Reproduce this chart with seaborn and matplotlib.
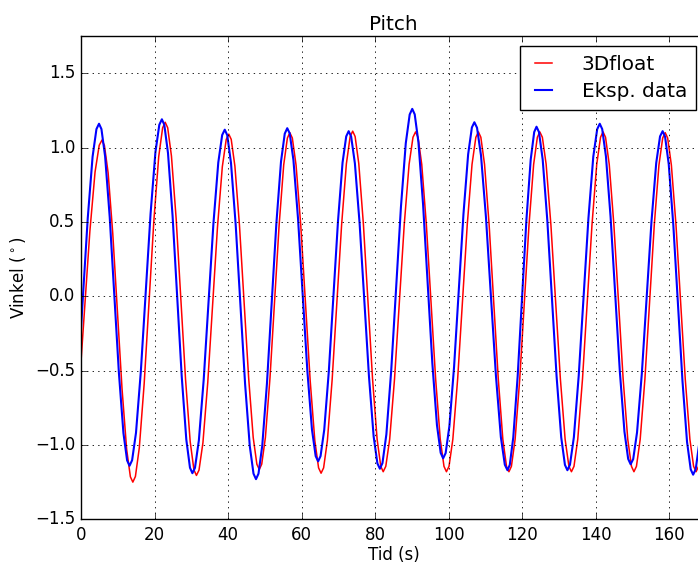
import matplotlib
matplotlib.use("Agg")
import matplotlib.pyplot as plt
import seaborn as sns
import numpy as np

# ---- data ----
red_t = [0.00, 1.00, 2.41, 3.82, 4.95,
         5.70, 6.37, 7.38, 8.64, 9.90, 11.16, 12.42, 13.43,
         14.10, 14.80, 15.86, 17.18, 18.50, 19.82, 21.14, 22.20,
         22.90, 23.58, 24.60, 25.88, 27.15, 28.43, 29.70, 30.72,
         31.40, 32.10, 33.16, 34.48, 35.80, 37.12, 38.44, 39.50,
         40.20, 40.86, 41.86, 43.11, 44.35, 45.60, 46.84, 47.84,
         48.50, 49.16, 50.16, 51.41, 52.65, 53.90, 55.14, 56.14,
         56.80, 57.48, 58.50, 59.78, 61.05, 62.33, 63.60, 64.62,
         65.30, 65.99, 67.02, 68.31, 69.60, 70.89, 72.18, 73.21,
         73.90, 74.56, 75.56, 76.81, 78.05, 79.30, 80.54, 81.54,
         82.20, 82.90, 83.96, 85.28, 86.60, 87.92, 89.24, 90.30,
         91.00, 91.67, 92.68, 93.94, 95.20, 96.46, 97.72, 98.73,
         99.40, 100.10, 101.14, 102.45, 103.75, 105.06, 106.36, 107.40,
         108.10, 108.76, 109.76, 111.01, 112.25, 113.50, 114.74, 115.74,
         116.40, 117.07, 118.08, 119.34, 120.60, 121.86, 123.12, 124.13,
         124.80, 125.49, 126.52, 127.81, 129.10, 130.39, 131.68, 132.71,
         133.40, 134.09, 135.12, 136.41, 137.70, 138.99, 140.28, 141.31,
         142.00, 142.67, 143.68, 144.94, 146.20, 147.46, 148.72, 149.73,
         150.40, 151.08, 152.10, 153.38, 154.65, 155.93, 157.20, 158.22,
         158.90, 159.57, 160.58, 161.84, 163.10, 164.36, 165.62, 166.63,
         167.30, 167.98, 169.00, 170.00]
red_v = [-0.440, -0.075, 0.436, 0.835, 1.015,
         1.050, 1.014, 0.830, 0.422, -0.100, -0.622, -1.030, -1.214,
         -1.250, -1.212, -1.019, -0.589, -0.040, 0.509, 0.939, 1.132,
         1.170, 1.133, 0.943, 0.522, -0.018, -0.557, -0.978, -1.168,
         -1.205, -1.169, -0.986, -0.579, -0.058, 0.464, 0.871, 1.054,
         1.090, 1.055, 0.875, 0.474, -0.038, -0.549, -0.950, -1.130,
         -1.165, -1.129, -0.949, -0.547, -0.033, 0.482, 0.884, 1.064,
         1.100, 1.064, 0.881, 0.475, -0.045, -0.565, -0.971, -1.154,
         -1.190, -1.154, -0.970, -0.562, -0.040, 0.482, 0.890, 1.074,
         1.110, 1.074, 0.891, 0.485, -0.035, -0.555, -0.961, -1.144,
         -1.180, -1.144, -0.962, -0.556, -0.038, 0.481, 0.887, 1.069,
         1.105, 1.069, 0.887, 0.481, -0.038, -0.556, -0.962, -1.144,
         -1.180, -1.144, -0.962, -0.556, -0.038, 0.481, 0.887, 1.069,
         1.105, 1.069, 0.887, 0.481, -0.038, -0.556, -0.962, -1.144,
         -1.180, -1.144, -0.962, -0.556, -0.038, 0.481, 0.887, 1.069,
         1.105, 1.069, 0.887, 0.481, -0.038, -0.556, -0.962, -1.144,
         -1.180, -1.144, -0.962, -0.556, -0.038, 0.481, 0.887, 1.069,
         1.105, 1.069, 0.887, 0.481, -0.038, -0.556, -0.962, -1.144,
         -1.180, -1.144, -0.962, -0.558, -0.040, 0.478, 0.882, 1.064,
         1.100, 1.064, 0.882, 0.478, -0.040, -0.558, -0.962, -1.144,
         -1.180, -1.144, -0.962, -0.658]

blue_t = [0.00, 0.53, 1.84, 3.15, 4.20,
          4.90, 5.56, 6.56, 7.81, 9.05, 10.30, 11.54, 12.54,
          13.20, 13.90, 14.96, 16.28, 17.60, 18.92, 20.24, 21.30,
          22.00, 22.66, 23.66, 24.91, 26.15, 27.40, 28.64, 29.64,
          30.30, 31.00, 32.06, 33.38, 34.70, 36.02, 37.34, 38.40,
          39.10, 39.78, 40.80, 42.08, 43.35, 44.63, 45.90, 46.92,
          47.60, 48.28, 49.30, 50.58, 51.85, 53.13, 54.40, 55.42,
          56.10, 56.77, 57.78, 59.04, 60.30, 61.56, 62.82, 63.83,
          64.50, 65.16, 66.16, 67.41, 68.65, 69.90, 71.14, 72.14,
          72.80, 73.48, 74.50, 75.78, 77.05, 78.33, 79.60, 80.62,
          81.30, 82.00, 83.06, 84.38, 85.70, 87.02, 88.34, 89.40,
          90.10, 90.77, 91.78, 93.04, 94.30, 95.56, 96.82, 97.83,
          98.50, 99.18, 100.20, 101.48, 102.75, 104.03, 105.30, 106.32,
          107.00, 107.72, 108.80, 110.15, 111.50, 112.85, 114.20, 115.28,
          116.00, 116.63, 117.58, 118.77, 119.95, 121.14, 122.32, 123.27,
          123.90, 124.57, 125.58, 126.84, 128.10, 129.36, 130.62, 131.63,
          132.30, 133.00, 134.06, 135.38, 136.70, 138.02, 139.34, 140.40,
          141.10, 141.77, 142.78, 144.04, 145.30, 146.56, 147.82, 148.83,
          149.50, 150.20, 151.24, 152.55, 153.85, 155.16, 156.46, 157.50,
          158.20, 158.86, 159.86, 161.11, 162.35, 163.60, 164.84, 165.84,
          166.50, 167.20, 168.24, 169.55, 170.00]
blue_v = [-0.220, 0.000, 0.527, 0.938, 1.124,
          1.160, 1.124, 0.940, 0.532, 0.010, -0.512, -0.920, -1.104,
          -1.140, -1.103, -0.918, -0.504, 0.025, 0.554, 0.968, 1.153,
          1.190, 1.153, 0.963, 0.540, 0.000, -0.540, -0.963, -1.153,
          -1.190, -1.154, -0.969, -0.559, -0.035, 0.489, 0.899, 1.084,
          1.120, 1.083, 0.896, 0.479, -0.055, -0.589, -1.006, -1.193,
          -1.230, -1.193, -1.005, -0.586, -0.050, 0.486, 0.905, 1.093,
          1.130, 1.095, 0.916, 0.519, 0.010, -0.499, -0.896, -1.075,
          -1.110, -1.075, -0.898, -0.504, 0.000, 0.504, 0.898, 1.075,
          1.110, 1.074, 0.893, 0.490, -0.025, -0.540, -0.943, -1.124,
          -1.160, -1.122, -0.929, -0.499, 0.050, 0.599, 1.029, 1.222,
          1.260, 1.223, 1.036, 0.619, 0.085, -0.449, -0.866, -1.053,
          -1.090, -1.055, -0.874, -0.473, 0.040, 0.553, 0.954, 1.135,
          1.170, 1.133, 0.947, 0.531, 0.000, -0.531, -0.947, -1.133,
          -1.170, -1.134, -0.949, -0.539, -0.015, 0.509, 0.919, 1.104,
          1.140, 1.104, 0.919, 0.509, -0.015, -0.539, -0.949, -1.134,
          -1.170, -1.133, -0.948, -0.534, -0.005, 0.524, 0.938, 1.123,
          1.160, 1.124, 0.941, 0.535, 0.015, -0.505, -0.911, -1.094,
          -1.130, -1.095, -0.916, -0.519, -0.010, 0.499, 0.896, 1.075,
          1.110, 1.074, 0.889, 0.479, -0.045, -0.569, -0.979, -1.164,
          -1.200, -1.163, -0.976, -0.558, -0.388]

series_labels = ["3Dfloat", "Eksp. data"]
x_ticks = [0, 20, 40, 60, 80, 100, 120, 140, 160]
y_ticks = [-1.5, -1.0, -0.5, 0.0, 0.5, 1.0, 1.5]

# ---- styling ----
plt.style.use("classic")
plt.rcParams.update({
    "figure.facecolor": "white",
    "savefig.facecolor": "white",
    "font.family": ["DejaVu Sans"],
    "mathtext.fontset": "dejavusans",
})

fig = plt.figure(figsize=(6.98, 5.63), dpi=100)
ax = fig.add_axes([81 / 698, (563 - 519.3) / 563, 625 / 698, 483.3 / 563])

sns.lineplot(x=red_t, y=red_v, color="red", lw=1.1, label=series_labels[0],
             ax=ax, estimator=None, sort=False)
sns.lineplot(x=blue_t, y=blue_v, color="blue", lw=1.5, label=series_labels[1],
             ax=ax, estimator=None, sort=False)

ax.set_xlim(0, 170)
ax.set_ylim(-1.5, 1.75)
ax.set_xticks(x_ticks)
ax.set_yticks(y_ticks)
ax.grid(True, color="black", linestyle=":", linewidth=0.6)
ax.tick_params(direction="in", top=True, right=True, labelsize=12)
ax.tick_params(axis="x", pad=5)

ax.set_title("Pitch", fontsize=14.4, pad=4)
ax.set_xlabel("Tid (s)", fontsize=12, labelpad=1)
ax.set_ylabel(r"Vinkel ($^\circ$)", fontsize=12)

ax.legend(loc="upper right", fontsize=14.4, frameon=True, fancybox=False,
          edgecolor="black", borderpad=0.45, labelspacing=0.4,
          handlelength=1.45, handletextpad=1.2, borderaxespad=0.5)

fig.savefig("out.png", dpi=100)
